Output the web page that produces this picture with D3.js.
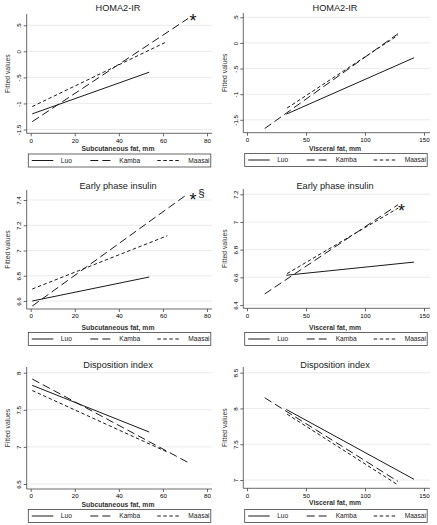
<!DOCTYPE html>
<html>
<head>
<meta charset="utf-8">
<script src="https://cdn.jsdelivr.net/npm/d3@7"></script>
<style>
  body { margin: 0; background: #fff; }
  svg { display: block; font-family: "Liberation Sans", Arial, sans-serif; }
</style>
</head>
<body>
<div class="chart"></div>
<script>
// groups, drawn solid / long dash / short dash
const groups = ['Luo', 'Kamba', 'Maasai']

// fitted lines: [start, end] for each group
const subcutFat = [[0.7, 53.8], [0.7, 71.4], [0.7, 62.0]]
const visceralFat = [[33.3, 141.5], [15, 128], [34, 128]]

const homaSubcut = [[-1.20, -0.40], [-1.35, 0.63], [-1.06, 0.19]]
const homaVisceral = [[-1.39, -0.29], [-1.67, 0.18], [-1.27, 0.15]]
const insulinSubcut = [[6.60, 6.79], [6.56, 7.45], [6.695, 7.117]]
const insulinVisceral = [[6.615, 6.71], [6.48, 7.125], [6.627, 7.10]]
const diSubcut = [[7.83, 7.20], [7.915, 6.79], [7.76, 6.93]]
const diVisceral = [[7.986, 7.01], [8.15, 6.98], [7.92, 6.93]]

// axis ticks
const subcutTicks = [0, 20, 40, 60, 80]
const visceralTicks = [0, 50, 100, 150]
const homaTicks = [-1.5, -1, -0.5, 0, 0.5]
const insulinSubcutTicks = [6.6, 6.8, 7, 7.2, 7.4]
const insulinVisceralTicks = [6.4, 6.6, 6.8, 7, 7.2]
const diSubcutTicks = [6.5, 7, 7.5, 8]
const diVisceralTicks = [7, 7.5, 8, 8.5]

const dashes = [null, '8,4', '3.5,2.5']

const svg = d3.select('.chart')
    .append('svg')
        .attr('width', 437)
        .attr('height', 525)

// column layout (pixels)
const cols = [
    { axis: 26.7, x0: 30.7, x1: 207, right: 212, center: 118, ytick: 18.3, ytitle: 7.5, leg: 28.3 },
    { axis: 243.3, x0: 247, x1: 424, right: 430, center: 335, ytick: 235.3, ytitle: 225, leg: 244.7 }
]

const panels = [
    { col: 0, title: 'HOMA2-IR', xlab: 'Subcutaneous fat, mm', xs: subcutFat, ys: homaSubcut,
      xt: subcutTicks, yt: homaTicks, yLo: 129.5, yHi: 25.3, top: 14, base: 133.3, titleY: 10.5, xlabY: 151, legY: 154,
      notes: [{ t: '*', x: 193, y: 17, s: 18 }] },
    { col: 1, title: 'HOMA2-IR', xlab: 'Visceral fat, mm', xs: visceralFat, ys: homaVisceral,
      xt: visceralTicks, yt: homaTicks, yLo: 119.8, yHi: 17.3, top: 13, base: 132.7, titleY: 10.5, xlabY: 150.5, legY: 153.5,
      notes: [] },
    { col: 0, title: 'Early phase insulin', xlab: 'Subcutaneous fat, mm', xs: subcutFat, ys: insulinSubcut,
      xt: subcutTicks, yt: insulinSubcutTicks, yLo: 301, yHi: 200, top: 190, base: 309, titleY: 188.5, xlabY: 329.5, legY: 332.5,
      notes: [{ t: '*', x: 193, y: 196, s: 18 }, { t: '§', x: 201.5, y: 191, s: 11.5 }] },
    { col: 1, title: 'Early phase insulin', xlab: 'Visceral fat, mm', xs: visceralFat, ys: insulinVisceral,
      xt: visceralTicks, yt: insulinVisceralTicks, yLo: 305, yHi: 194.3, top: 189, base: 308.3, titleY: 188.5, xlabY: 329.5, legY: 332.5,
      notes: [{ t: '*', x: 401.5, y: 207, s: 18 }] },
    { col: 0, title: 'Disposition index', xlab: 'Subcutaneous fat, mm', xs: subcutFat, ys: diSubcut,
      xt: subcutTicks, yt: diSubcutTicks, yLo: 484, yHi: 372.7, top: 367, base: 489, titleY: 367.5, xlabY: 506.5, legY: 509.5,
      notes: [] },
    { col: 1, title: 'Disposition index', xlab: 'Visceral fat, mm', xs: visceralFat, ys: diVisceral,
      xt: visceralTicks, yt: diVisceralTicks, yLo: 480, yHi: 372.7, top: 367, base: 488.3, titleY: 367.5, xlabY: 504.5, legY: 509.5,
      notes: [] }
]

// stata style: drop leading zero
const fmt = (d) => String(d).replace(/^(-?)0\./, '$1.')

panels.forEach((p) => {
    const c = cols[p.col]
    const x = d3.scaleLinear()
        .domain([p.xt[0], p.xt[p.xt.length - 1]])
        .range([c.x0, c.x1])
    const y = d3.scaleLinear()
        .domain([p.yt[0], p.yt[p.yt.length - 1]])
        .range([p.yLo, p.yHi])

    const g = svg.append('g')

    //gridlines
    g.selectAll('line.grid')
    .data(p.yt)
    .enter()
    .append('line')
        .attr('x1', c.axis)
        .attr('x2', c.right)
        .attr('y1', (d) => y(d))
        .attr('y2', (d) => y(d))
        .style('stroke', '#e6e6e6')
        .style('stroke-width', 0.8)

    //y axis
    const ya = g.append('g')
        .attr('transform', `translate(${c.axis}, 0)`)
        .call(d3.axisLeft(y).tickValues(p.yt).tickFormat(fmt).tickSize(3).tickSizeOuter(0))
    ya.select('.domain')
        .attr('d', `M0,${p.top}V${p.base}`)
    ya.selectAll('text')
        .attr('transform', 'rotate(-90)')
        .attr('x', 0)
        .attr('y', c.ytick - c.axis + 2.2)
        .attr('dy', null)
        .attr('text-anchor', 'middle')
        .style('font-size', '6.2px')
        .style('font-family', '"Liberation Sans", Arial, sans-serif')

    //x axis
    const xa = g.append('g')
        .attr('transform', `translate(0, ${p.base})`)
        .call(d3.axisBottom(x).tickValues(p.xt).tickFormat(fmt).tickSize(3).tickSizeOuter(0))
    xa.select('.domain')
        .attr('d', `M${c.axis},0H${c.right}`)
    xa.selectAll('text')
        .attr('y', 5)
        .attr('dy', '0.71em')
        .style('font-size', '6.2px')
        .style('font-family', '"Liberation Sans", Arial, sans-serif')

    svg.selectAll('.domain, .tick line')
        .style('stroke', '#444')
        .style('stroke-width', 0.8)

    //fitted lines
    const line = d3.line()
        .x((d) => x(d[0]))
        .y((d) => y(d[1]))
    groups.forEach((grp, i) => {
        g.append('path')
            .attr('d', line([[p.xs[i][0], p.ys[i][0]], [p.xs[i][1], p.ys[i][1]]]))
            .style('fill', 'none')
            .style('stroke', '#1a1a1a')
            .style('stroke-width', 1)
            .style('stroke-dasharray', dashes[i])
    })

    //titles
    g.append('text')
        .attr('x', c.center)
        .attr('y', p.titleY)
        .attr('text-anchor', 'middle')
        .style('font-size', '9.2px')
        .style('fill', '#222')
        .text(p.title)

    g.append('text')
        .attr('x', c.center)
        .attr('y', p.xlabY)
        .attr('text-anchor', 'middle')
        .style('font-size', '6.8px')
        .style('font-weight', 'bold')
        .style('fill', '#333')
        .text(p.xlab)

    g.append('text')
        .attr('transform', `translate(${c.ytitle + 2.4}, ${(p.top + p.base) / 2}) rotate(-90)`)
        .attr('text-anchor', 'middle')
        .style('font-size', '6.8px')
        .style('fill', '#333')
        .text('Fitted values')

    //notes
    p.notes.forEach((n) => {
        g.append('text')
            .attr('x', n.x)
            .attr('y', n.y + n.s * 0.55)
            .attr('text-anchor', 'middle')
            .style('font-size', `${n.s}px`)
            .style('fill', '#111')
            .text(n.t)
    })

    //legend
    const leg = g.append('g')
        .attr('transform', `translate(${c.leg}, ${p.legY})`)
    leg.append('rect')
        .attr('width', 182.5)
        .attr('height', 13)
        .style('fill', 'white')
        .style('stroke', '#444')
        .style('stroke-width', 0.8)
    const sx = [3.5, 62, 129]
    const lx = [32.5, 91, 160]
    groups.forEach((grp, i) => {
        leg.append('line')
            .attr('x1', sx[i])
            .attr('x2', sx[i] + 21.5)
            .attr('y1', 6.5)
            .attr('y2', 6.5)
            .style('stroke', '#1a1a1a')
            .style('stroke-width', 1)
            .style('stroke-dasharray', dashes[i])
        leg.append('text')
            .attr('x', lx[i])
            .attr('y', 8.8)
            .style('font-size', '6.6px')
            .style('fill', '#222')
            .text(grp)
    })
})
</script>
</body>
</html>
